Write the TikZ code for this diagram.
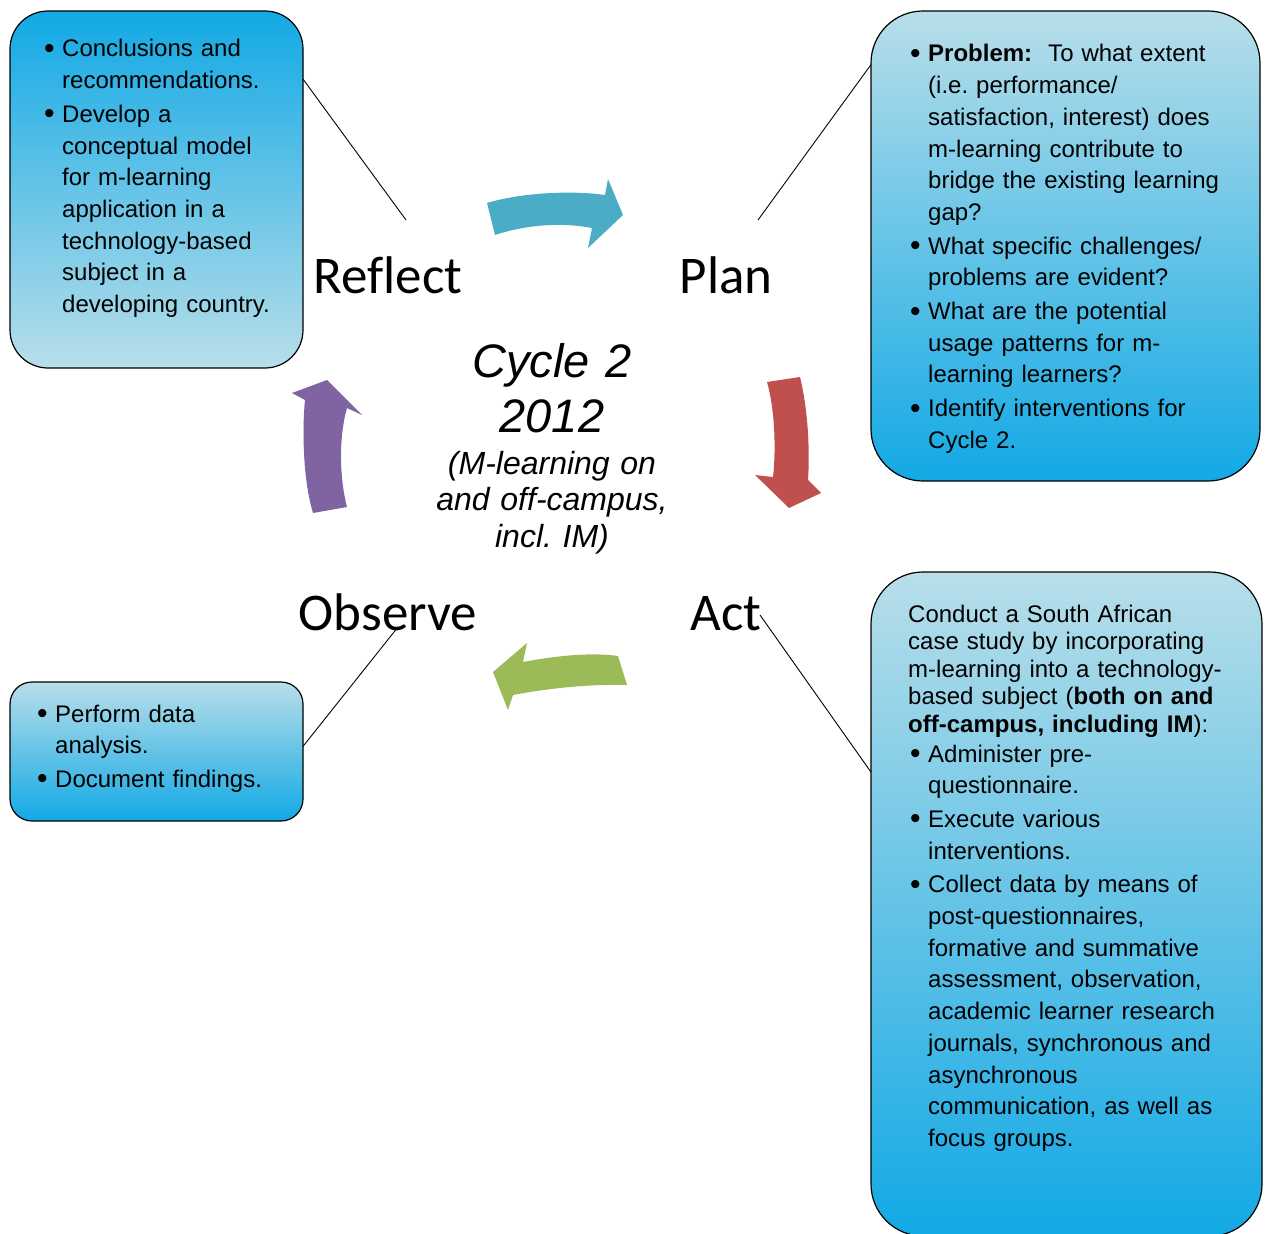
\documentclass[tikz,border=0pt]{standalone}
\usepackage{fontspec}
\setmainfont{Liberation Sans}
\newfontfamily\labelfont[Ligatures=NoCommon]{Carlito}
\definecolor{boxlight}{HTML}{B8DEE9}
\definecolor{boxdeep}{HTML}{12A9E5}
\definecolor{arrteal}{HTML}{4BACC6}
\definecolor{arrred}{HTML}{C0504D}
\definecolor{arrgreen}{HTML}{9BBB59}
\definecolor{arrpurple}{HTML}{8064A2}
\frenchspacing
% bullet column and continuation indent for the list boxes
\newcommand{\bmk}{\makebox[20pt][l]{\hspace{2pt}\raisebox{-1.5pt}{\fontsize{30}{30}\selectfont\textbullet}}}
\newcommand{\cind}{\hspace*{20pt}}
\begin{document}
\begin{tikzpicture}[x=1pt,y=-1pt,
  box/.style={draw=black,line width=1.2pt,inner sep=0pt,outer sep=0pt,rectangle},
  downfade/.style={top color=boxlight,bottom color=boxdeep},
  upfade/.style={top color=boxdeep,bottom color=boxlight},
  boxtext/.style={anchor=base west,inner sep=0pt,text width=380pt,align=left,
    font=\fontsize{24}{31.7}\selectfont},
  stage/.style={anchor=base,inner sep=0pt,font=\labelfont\fontsize{53}{60}\selectfont},
  title/.style={anchor=base,inner sep=0pt,text width=320pt,align=center},
  link/.style={draw=black,line width=0.9pt},
]
\useasboundingbox (0,0) rectangle (1265,1233);

% ---- boxes ----
\node[box,upfade,minimum width=293pt,minimum height=357pt,rounded corners=38pt]
  (reflectbox) at (156.5,189.5) {};
\node[box,downfade,minimum width=389pt,minimum height=470pt,rounded corners=52pt]
  (planbox) at (1065.5,246) {};
\node[box,downfade,minimum width=293pt,minimum height=139pt,rounded corners=22pt]
  (observebox) at (156.5,751.5) {};
\node[box,downfade,minimum width=391pt,minimum height=664pt,rounded corners=52pt]
  (actbox) at (1066.5,904) {};

% ---- box texts ----
\node[boxtext] (reflecttext) at (42,57) {%
\bmk Conclusions and\\
\cind recommendations.\\[2pt]
\bmk Develop a\\
\cind conceptual model\\
\cind for m-learning\\
\cind application in a\\
\cind technology-based\\
\cind subject in a\\
\cind developing country.};

\node[boxtext] (plantext) at (908,62) {%
\bmk \textbf{Problem:}\ \ To what extent\\
\cind (i.e. performance/\\
\cind satisfaction, interest) does\\
\cind m-learning contribute to\\
\cind bridge the existing learning\\
\cind gap?\\[2pt]
\bmk What specific challenges/\\
\cind problems are evident?\\[2pt]
\bmk What are the potential\\
\cind usage patterns for m-\\
\cind learning learners?\\[2pt]
\bmk Identify interventions for\\
\cind Cycle 2.};

\node[boxtext] (observetext) at (35,722) {%
\bmk Perform data\\
\cind analysis.\\[2pt]
\bmk Document findings.};

\node[boxtext,font=\fontsize{24}{27.5}\selectfont] (acthead) at (908,622) {%
Conduct a South African\\
case study by incorporating\\
m-learning into a technology-\\
based subject (\textbf{both on and}\\
\textbf{off-campus, including IM}):};

\node[boxtext] (actlist) at (908,762) {%
\bmk Administer pre-\\
\cind questionnaire.\\[2pt]
\bmk Execute various\\
\cind interventions.\\[2pt]
\bmk Collect data by means of\\
\cind post-questionnaires,\\
\cind formative and summative\\
\cind assessment, observation,\\
\cind academic learner research\\
\cind journals, synchronous and\\
\cind asynchronous\\
\cind communication, as well as\\
\cind focus groups.};

% ---- cycle stage labels ----
\node[stage] (reflect) at (388,293) {Reflect};
\node[stage] (plan) at (726,293) {Plan};
\node[stage] (observe) at (388,630) {Observe};
\node[stage] (act) at (726,630) {Act};

% ---- centre title ----
\node[title,font=\itshape\fontsize{47}{55}\selectfont] (cycle) at (552,377)
  {Cycle 2\\2012};
\node[title,font=\itshape\fontsize{32}{36.5}\selectfont] (scope) at (552,474)
  {(M-learning on\\and off-campus,\\incl. IM)};

% ---- curved cycle arrows ----
\fill[arrteal] (487,203) .. controls (520,193) and (570,190) .. (605,195)
  -- (608,179) -- (623,215) -- (588,248) -- (592,228)
  .. controls (560,222) and (525,225) .. (495,235) -- cycle;
\fill[arrred] (767,382) -- (800,377) .. controls (808,410) and (810,450) .. (808,480)
  -- (821,493) -- (789,508) -- (755,475) -- (773,477)
  .. controls (776,450) and (775,410) .. (767,382) -- cycle;
\fill[arrgreen] (618,656) -- (627,685) .. controls (590,684) and (550,688) .. (513,695)
  -- (508,710) -- (493,672) -- (527,643) -- (523,662)
  .. controls (555,656) and (590,652) .. (618,656) -- cycle;
\fill[arrpurple] (313,513) .. controls (303,480) and (302,430) .. (305,400)
  -- (292,393) -- (327,380) -- (362,415) -- (347,408)
  .. controls (338,440) and (340,480) .. (347,507) -- cycle;

% ---- callout connectors ----
\coordinate (reflectend) at (406,220);
\coordinate (planend) at (758,220);
\coordinate (observeend) at (398,627);
\coordinate (actend) at (760,615);
\draw[link] (reflectbox.37) -- (reflectend);
\draw[link] (planbox.137) -- (planend);
\draw[link] (observebox.2.5) -- (observeend);
\draw[link] (actbox.146.6) -- (actend);
\end{tikzpicture}
\end{document}
